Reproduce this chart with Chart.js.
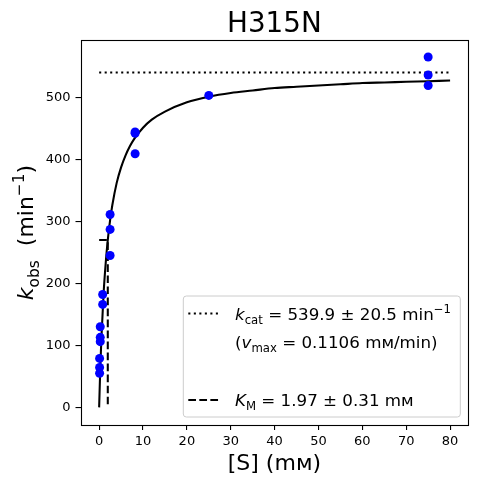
<!DOCTYPE html>
<html>
<head>
<meta charset="utf-8">
<script src="https://cdn.jsdelivr.net/npm/chart.js@4.4.1/dist/chart.umd.min.js"></script>
<style>
  html, body { margin: 0; padding: 0; background: #ffffff; }
  #wrap { width: 477px; height: 484px; }
</style>
</head>
<body>
<div id="wrap"><canvas id="c" width="477" height="484" style="width:477px;height:484px"></canvas></div>
<script>
// ---- data ----
const substrateObs = [0.1, 0.1, 0.1, 0.25, 0.25, 0.25, 0.8, 0.8, 2.5, 2.5, 2.5, 8.2, 8.2, 8.2, 25, 75, 75, 75];
const kObs        = [55, 64.5, 79, 106, 113, 130, 166, 182, 245, 287, 311, 409, 442, 444, 503, 519, 536, 565];

// fitted Michaelis-Menten curve
const curveS = [0, 0.25, 0.5, 1, 1.5, 2, 2.5, 3, 4, 5, 6, 7, 8, 10, 12, 15, 20, 25, 30, 35, 40, 45, 50, 55, 60, 65, 70, 75, 80];
const curveK = [0, 61, 109, 182, 233, 272, 302, 326, 362, 387, 406, 421, 433, 451, 464, 477, 492, 501, 507, 511, 515, 517, 519, 521, 523, 524, 525, 526, 527];

const kcatLineS = [0, 80];
const kcatLineK = [539.9, 539.9];
const kmLineS = [0, 1.97, 1.97];
const kmLineK = [270, 270, 0];

const xTicks = [0, 10, 20, 30, 40, 50, 60, 70, 80];
const yTicks = [0, 100, 200, 300, 400, 500];

const titleText = "H315N";
const xTitleText = "[S] (mᴍ)";

const FONT = '"DejaVu Sans", "Liberation Sans", sans-serif';
const LW = 2.08;

function pts(xs, ys) { return xs.map((x, i) => ({ x: x, y: ys[i] })); }

function drawRich(ctx, parts, x, y, size, measureOnly) {
  let cx = x;
  for (const p of parts) {
    const small = p.sub || p.sup;
    const fs = small ? size * 0.7 : size;
    ctx.font = (p.it ? 'italic ' : '') + fs + 'px ' + FONT;
    const dy = p.sub ? size * 0.26 : (p.sup ? -size * 0.40 : 0);
    if (!measureOnly) ctx.fillText(p.t, cx, y + dy);
    cx += ctx.measureText(p.t).width;
  }
  return cx - x;
}

const decor = {
  id: 'decor',
  afterDraw(chart) {
    const ctx = chart.ctx;
    const a = chart.chartArea;
    ctx.save();
    // frame (all four spines)
    ctx.strokeStyle = '#000';
    ctx.lineWidth = 1.1;
    ctx.setLineDash([]);
    ctx.strokeRect(Math.round(a.left) + 0.5, Math.round(a.top) + 0.5,
                   Math.round(a.right) - Math.round(a.left), Math.round(a.bottom) - Math.round(a.top));

    ctx.fillStyle = '#000';
    ctx.textBaseline = 'alphabetic';
    // title
    ctx.font = '27.8px ' + FONT;
    ctx.textAlign = 'center';
    ctx.fillText(titleText, (a.left + a.right) / 2, 32);
    // x title
    ctx.font = '22px ' + FONT;
    ctx.fillText(xTitleText, (a.left + a.right) / 2, 470);

    // y title (rotated)
    ctx.textAlign = 'left';
    const yParts = [{ t: 'k', it: true }, { t: 'obs', sub: true }, { t: '  (min' }, { t: '−1', sup: true }, { t: ')' }];
    const w = drawRich(ctx, yParts, 0, 0, 22, true);
    ctx.save();
    ctx.translate(33, (a.top + a.bottom) / 2 + w / 2);
    ctx.rotate(-Math.PI / 2);
    drawRich(ctx, yParts, 0, 0, 22, false);
    ctx.restore();

    // legend
    const L = 183.3, T = 296, R = 460.3, B = 417, rad = 3;
    ctx.beginPath();
    ctx.moveTo(L + rad, T);
    ctx.lineTo(R - rad, T); ctx.quadraticCurveTo(R, T, R, T + rad);
    ctx.lineTo(R, B - rad); ctx.quadraticCurveTo(R, B, R - rad, B);
    ctx.lineTo(L + rad, B); ctx.quadraticCurveTo(L, B, L, B - rad);
    ctx.lineTo(L, T + rad); ctx.quadraticCurveTo(L, T, L + rad, T);
    ctx.closePath();
    ctx.fillStyle = 'rgba(255,255,255,0.8)';
    ctx.fill();
    ctx.strokeStyle = '#cccccc';
    ctx.lineWidth = 1;
    ctx.stroke();

    // handles
    ctx.strokeStyle = '#000';
    ctx.lineWidth = LW;
    ctx.setLineDash([LW, LW * 1.65]);
    ctx.beginPath(); ctx.moveTo(188.3, 313.5); ctx.lineTo(219.3, 313.5); ctx.stroke();
    ctx.setLineDash([LW * 3.7, LW * 1.6]);
    ctx.beginPath(); ctx.moveTo(188.3, 400); ctx.lineTo(219.3, 400); ctx.stroke();
    ctx.setLineDash([]);

    ctx.fillStyle = '#000';
    const fs = 16.7;
    const tx = 235;
    drawRich(ctx, [{ t: 'k', it: true }, { t: 'cat', sub: true }, { t: ' = 539.9 ± 20.5 min' }, { t: '−1', sup: true }], tx, 319.6, fs);
    drawRich(ctx, [{ t: '(' }, { t: 'v', it: true }, { t: 'max', sub: true }, { t: ' = 0.1106 mᴍ/min)' }], tx, 347.5, fs);
    drawRich(ctx, [{ t: 'K', it: true }, { t: 'M', sub: true }, { t: ' = 1.97 ± 0.31 mᴍ' }], tx, 406, fs);
    ctx.restore();
  }
};

new Chart(document.getElementById('c'), {
  type: 'scatter',
  data: {
    datasets: [
      {
        data: pts(substrateObs, kObs),
        backgroundColor: '#0000ff',
        borderWidth: 0,
        pointRadius: 4.5,
        pointHoverRadius: 4.5,
        showLine: false,
        order: 0
      },
      {
        data: pts(curveS, curveK),
        showLine: true,
        borderColor: '#000',
        borderWidth: LW,
        pointRadius: 0,
        cubicInterpolationMode: 'monotone',
        order: 1
      },
      {
        data: pts(kcatLineS, kcatLineK),
        showLine: true,
        borderColor: '#000',
        borderWidth: LW,
        borderDash: [LW, LW * 1.65],
        pointRadius: 0,
        order: 1
      },
      {
        data: pts(kmLineS, kmLineK),
        showLine: true,
        borderColor: '#000',
        borderWidth: LW,
        borderDash: [LW * 3.7, LW * 1.6],
        pointRadius: 0,
        order: 1
      }
    ]
  },
  options: {
    responsive: false,
    animation: false,
    devicePixelRatio: 1,
    layout: { padding: { left: 0, top: 40, right: 8.7, bottom: 0 } },
    plugins: { legend: { display: false }, title: { display: false }, tooltip: { enabled: false } },
    scales: {
      x: {
        type: 'linear',
        min: -4.25,
        max: 84.15,
        afterFit(scale) { scale.height = 59; },
        afterBuildTicks(scale) { scale.ticks = xTicks.map(v => ({ value: v })); },
        grid: { drawOnChartArea: false, drawTicks: true, tickLength: 5, color: '#000', lineWidth: 1.1 },
        border: { display: false },
        ticks: { color: '#000', font: { family: FONT, size: 13 }, padding: 4, maxRotation: 0 }
      },
      y: {
        type: 'linear',
        min: -28.4,
        max: 592.4,
        afterFit(scale) { scale.width = 80.5; },
        afterBuildTicks(scale) { scale.ticks = yTicks.map(v => ({ value: v })); },
        grid: { drawOnChartArea: false, drawTicks: true, tickLength: 5, color: '#000', lineWidth: 1.1 },
        border: { display: false },
        ticks: { color: '#000', font: { family: FONT, size: 13 }, padding: 5 }
      }
    }
  },
  plugins: [decor]
});
</script>
</body>
</html>
